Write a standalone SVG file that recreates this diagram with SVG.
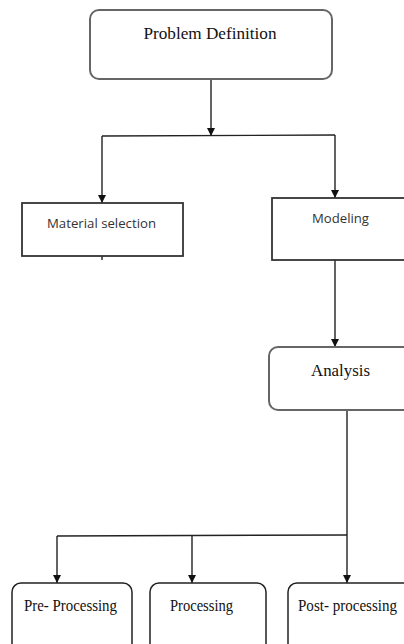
<svg xmlns="http://www.w3.org/2000/svg" width="404" height="644" viewBox="0 0 404 644">
<style>
.serif{font-family:"Liberation Serif","Times New Roman",serif;fill:#111}
.sans{font-family:"Open Sans","Liberation Sans",sans-serif;fill:#333}
.rbox{fill:#fff;stroke:#666;stroke-width:2}
.rbox2{fill:#fff;stroke:#222;stroke-width:1.5}
.sbox{fill:#fff;stroke:#333;stroke-width:1.8}
.conn{fill:none;stroke:#222;stroke-width:1.4}
</style>
<defs>
<marker id="ah" viewBox="0 0 8 10" refX="8" refY="5" markerWidth="8" markerHeight="10" markerUnits="userSpaceOnUse" orient="auto">
<path d="M0,1 L8,5 L0,9 Z" fill="#111"/>
</marker>
</defs>
<rect width="404" height="644" fill="#fff"/>
<g id="connectors">
<line class="conn" x1="211" y1="79" x2="211" y2="136" marker-end="url(#ah)"/>
<polyline class="conn" points="102,136 335,135"/>
<line class="conn" x1="102" y1="136" x2="102" y2="203" marker-end="url(#ah)"/>
<line class="conn" x1="335" y1="135" x2="335" y2="198" marker-end="url(#ah)"/>
<line class="conn" x1="102" y1="256" x2="102" y2="260"/>
<line class="conn" x1="335" y1="260" x2="335" y2="347" marker-end="url(#ah)"/>
<line class="conn" x1="347" y1="410" x2="347" y2="583" marker-end="url(#ah)"/>
<line class="conn" x1="57" y1="536" x2="347" y2="535"/>
<line class="conn" x1="57" y1="536" x2="57" y2="583" marker-end="url(#ah)"/>
<line class="conn" x1="192" y1="535" x2="192" y2="583" marker-end="url(#ah)"/>
</g>
<g id="problem-definition">
<rect class="rbox" x="90" y="10" width="242" height="69" rx="9"/>
<text class="serif" x="210" y="39" font-size="17" text-anchor="middle" textLength="133" lengthAdjust="spacingAndGlyphs">Problem Definition</text>
</g>
<g id="material-selection">
<rect class="sbox" x="22" y="203" width="161" height="53"/>
<text class="sans" x="101.5" y="228" font-size="13" text-anchor="middle" textLength="109" lengthAdjust="spacingAndGlyphs">Material selection</text>
</g>
<g id="modeling">
<rect class="sbox" x="272" y="198" width="140" height="62"/>
<text class="sans" x="340.5" y="223" font-size="13" text-anchor="middle" textLength="57" lengthAdjust="spacingAndGlyphs">Modeling</text>
</g>
<g id="analysis">
<rect class="rbox" x="269" y="347" width="145" height="63" rx="9"/>
<text class="serif" x="340.5" y="376" font-size="17" text-anchor="middle" textLength="59" lengthAdjust="spacingAndGlyphs">Analysis</text>
</g>
<g id="pre-processing">
<rect class="rbox2" x="12" y="583" width="120" height="70" rx="9"/>
<text class="serif" x="70.5" y="611" font-size="16.5" text-anchor="middle" textLength="93" lengthAdjust="spacingAndGlyphs">Pre- Processing</text>
</g>
<g id="processing">
<rect class="rbox2" x="150" y="583" width="116" height="70" rx="9"/>
<text class="serif" x="201.5" y="611" font-size="16.5" text-anchor="middle" textLength="63" lengthAdjust="spacingAndGlyphs">Processing</text>
</g>
<g id="post-processing">
<rect class="rbox2" x="288" y="583" width="130" height="70" rx="9"/>
<text class="serif" x="347.5" y="611" font-size="16.5" text-anchor="middle" textLength="99" lengthAdjust="spacingAndGlyphs">Post- processing</text>
</g>
</svg>
